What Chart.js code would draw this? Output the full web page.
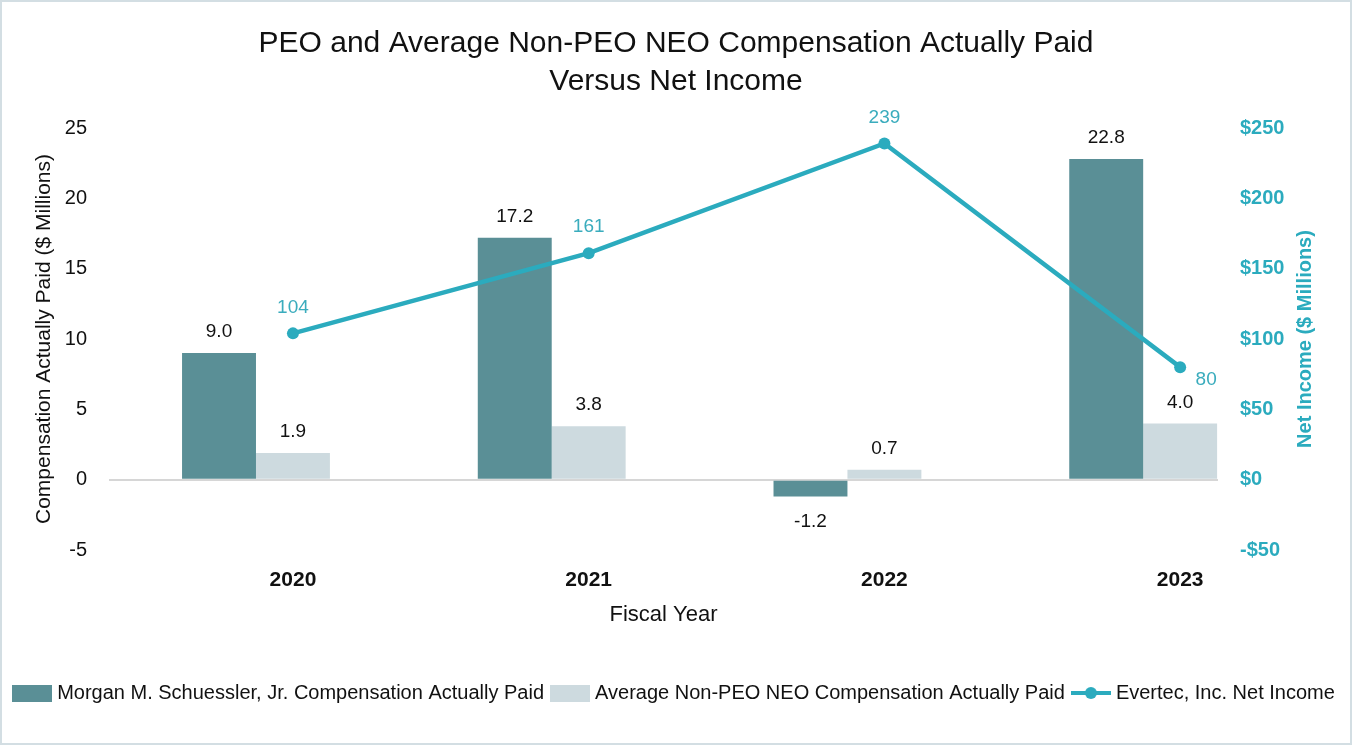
<!DOCTYPE html>
<html>
<head>
<meta charset="utf-8">
<title>PEO and Average Non-PEO NEO Compensation Actually Paid Versus Net Income</title>
<script src="https://cdn.jsdelivr.net/npm/chart.js"></script>
<style>
  html, body { margin: 0; padding: 0; background: #fff; }
  #wrap {
    width: 1352px; height: 745px; box-sizing: border-box;
    border: 2px solid #d3dee3; position: relative;
  }
</style>
</head>
<body>
<div id="wrap"><canvas id="capChart"></canvas></div>
<script>
// chart data
const years = [2020, 2021, 2022, 2023];
const peoCap = [9.0, 17.2, -1.2, 22.8];
const neoCap = [1.9, 3.8, 0.7, 4.0];
const netIncome = [104, 161, 239, 80];
const leftTicks = [-5, 0, 5, 10, 15, 20, 25];
const rightTicks = [-50, 0, 50, 100, 150, 200, 250];

const FONT = '"Liberation Sans", Arial, Helvetica, sans-serif';
const DARK = '#5a8f96';
const LIGHT = '#cddadf';
const TEAL = '#2babbe';
const TEAL_TEXT = '#3aacbd';

function boxIcon(color) {
  const c = document.createElement('canvas');
  c.width = 40; c.height = 17;
  const g = c.getContext('2d');
  g.fillStyle = color;
  g.fillRect(0, 0, 40, 17);
  return c;
}

function lineIcon() {
  const c = document.createElement('canvas');
  c.width = 40; c.height = 14;
  const g = c.getContext('2d');
  g.strokeStyle = TEAL;
  g.lineWidth = 4;
  g.beginPath(); g.moveTo(0, 7); g.lineTo(40, 7); g.stroke();
  g.fillStyle = TEAL;
  g.beginPath(); g.arc(20, 7, 6, 0, Math.PI * 2); g.fill();
  return c;
}

const valueLabels = {
  id: 'valueLabels',
  afterDatasetsDraw(chart) {
    const ctx = chart.ctx;
    ctx.save();
    ctx.textAlign = 'center';
    ctx.textBaseline = 'middle';
    ctx.font = '19px ' + FONT;
    ctx.fillStyle = '#111';
    [[1, peoCap], [2, neoCap]].forEach(([di, vals]) => {
      chart.getDatasetMeta(di).data.forEach((bar, i) => {
        const v = vals[i];
        ctx.fillText(v.toFixed(1), bar.x, v < 0 ? bar.y + 25 : bar.y - 21);
      });
    });
    const pts = chart.getDatasetMeta(0).data;
    ctx.fillStyle = TEAL_TEXT;
    pts.forEach((pt, i) => {
      const last = i === pts.length - 1;
      ctx.fillText(String(netIncome[i]), last ? pt.x + 26 : pt.x, last ? pt.y + 13 : pt.y - 26);
    });
    // right axis title reads bottom-to-top like the left one
    const area = chart.chartArea;
    const y1 = chart.scales.y1;
    ctx.translate(y1.left + 87, (area.top + area.bottom) / 2);
    ctx.rotate(-Math.PI / 2);
    ctx.font = 'bold 20px ' + FONT;
    ctx.fillStyle = TEAL;
    ctx.fillText('Net Income ($ Millions)', 0, 0);
    ctx.restore();
  }
};

new Chart(document.getElementById('capChart'), {
  type: 'bar',
  data: {
    datasets: [
      {
        type: 'line',
        label: 'Evertec, Inc. Net Income',
        data: years.map((yr, i) => ({ x: yr, y: netIncome[i] })),
        yAxisID: 'y1',
        borderColor: TEAL,
        backgroundColor: TEAL,
        borderWidth: 4.5,
        pointRadius: 6,
        pointBackgroundColor: TEAL,
        pointBorderWidth: 0,
        tension: 0
      },
      {
        label: 'Morgan M. Schuessler, Jr. Compensation Actually Paid',
        data: years.map((yr, i) => ({ x: yr, y: peoCap[i] })),
        yAxisID: 'y',
        backgroundColor: DARK
      },
      {
        label: 'Average Non-PEO NEO Compensation Actually Paid',
        data: years.map((yr, i) => ({ x: yr, y: neoCap[i] })),
        yAxisID: 'y',
        backgroundColor: LIGHT
      },
      {
        // empty slot so the light bar sits on the year like the line point
        label: '',
        data: years.map(yr => ({ x: yr, y: null })),
        yAxisID: 'y',
        backgroundColor: 'rgba(0,0,0,0)'
      }
    ]
  },
  options: {
    responsive: true,
    maintainAspectRatio: false,
    animation: false,
    datasets: { bar: { categoryPercentage: 0.75, barPercentage: 1 } },
    layout: { padding: { left: 0, right: 0, top: 0, bottom: 30 } },
    plugins: {
      title: {
        display: true,
        text: ['PEO and Average Non-PEO NEO Compensation Actually Paid', 'Versus Net Income'],
        color: '#111',
        font: { family: FONT, size: 30, weight: 'normal', lineHeight: 1.25 },
        padding: { top: 23, bottom: 28 }
      },
      legend: {
        position: 'bottom',
        labels: {
          usePointStyle: true,
          pointStyleWidth: 30,
          boxHeight: 17,
          padding: 11,
          color: '#111',
          font: { family: FONT, size: 20 },
          generateLabels: () => [
            { text: 'Morgan M. Schuessler, Jr. Compensation Actually Paid', pointStyle: boxIcon(DARK), datasetIndex: 1, fontColor: '#111', lineWidth: 0 },
            { text: 'Average Non-PEO NEO Compensation Actually Paid', pointStyle: boxIcon(LIGHT), datasetIndex: 2, fontColor: '#111', lineWidth: 0 },
            { text: 'Evertec, Inc. Net Income', pointStyle: lineIcon(), datasetIndex: 0, fontColor: '#111', lineWidth: 0 }
          ]
        }
      },
      tooltip: { enabled: false }
    },
    scales: {
      x: {
        type: 'linear',
        position: 'bottom',
        offset: false,
        min: 2019.378,
        max: 2023.128,
        afterBuildTicks: s => { s.ticks = years.map(v => ({ value: v })); },
        afterFit: s => { s.height = 122; },
        grid: { display: false, offset: false },
        border: { display: false },
        ticks: {
          padding: 10,
          color: '#111',
          font: { family: FONT, size: 21, weight: 'bold' },
          callback: v => String(v)
        },
        title: {
          display: true,
          text: 'Fiscal Year',
          color: '#111',
          font: { family: FONT, size: 22 },
          padding: { top: 0, bottom: 44 }
        }
      },
      y: {
        position: 'left',
        min: -5,
        max: 25,
        afterBuildTicks: s => { s.ticks = leftTicks.map(v => ({ value: v })); },
        afterFit: s => { s.width = 107; },
        border: { display: false },
        grid: {
          drawTicks: false,
          color: c => (c.tick && c.tick.value === 0 ? '#d6d6d6' : 'rgba(0,0,0,0)'),
          lineWidth: 2
        },
        ticks: {
          padding: 22,
          color: '#111',
          font: { family: FONT, size: 20 }
        },
        title: {
          display: true,
          text: 'Compensation Actually Paid ($ Millions)',
          color: '#111',
          font: { family: FONT, size: 21 },
          padding: { top: 30, bottom: 4 }
        }
      },
      y1: {
        position: 'right',
        min: -50,
        max: 250,
        afterBuildTicks: s => { s.ticks = rightTicks.map(v => ({ value: v })); },
        afterFit: s => { s.width = 132; },
        border: { display: false },
        grid: { display: false, drawTicks: false },
        ticks: {
          padding: 22,
          color: TEAL,
          font: { family: FONT, size: 20, weight: 'bold' },
          callback: v => (v < 0 ? '-$' + Math.abs(v) : '$' + v)
        }
      }
    }
  },
  plugins: [valueLabels]
});
</script>
</body>
</html>
